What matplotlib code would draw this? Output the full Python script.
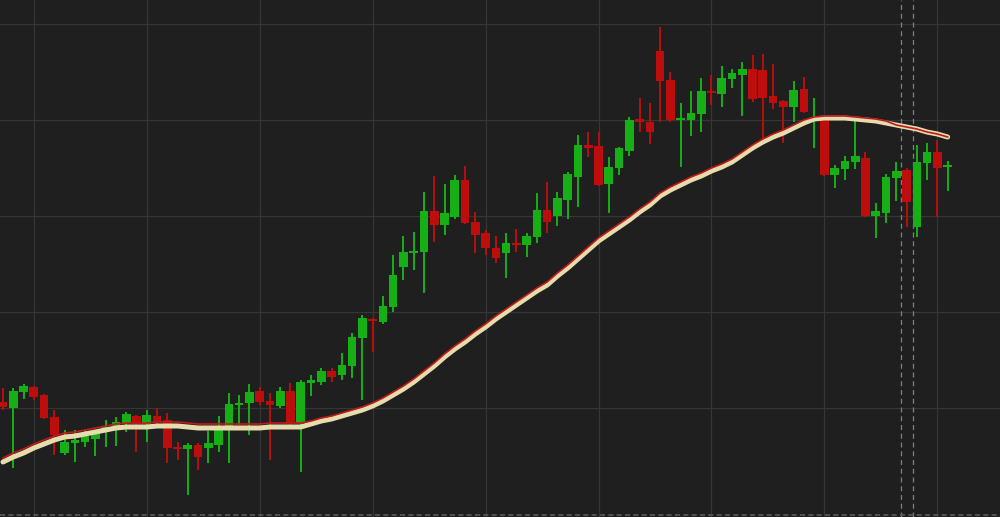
import matplotlib
matplotlib.use("Agg")
import matplotlib.pyplot as plt
import numpy as np

# OHLC (arbitrary price units)
opens = [20.6, 20.0, 21.6, 22.1, 21.3, 19.1, 15.5, 16.5, 16.6, 16.9,
         17.9, 18.2, 18.5, 19.2, 18.4, 19.2, 18.8, 16.1, 15.9, 16.3,
         16.0, 16.3, 18.1, 20.3, 20.5, 21.7, 20.7, 20.2, 21.7, 18.5,
         22.5, 22.6, 23.7, 23.3, 24.2, 27.0, 28.9, 28.6, 30.1, 34.1,
         35.5, 35.6, 39.7, 38.3, 39.1, 42.8, 38.6, 37.5, 36.0, 35.5,
         36.5, 36.3, 37.1, 39.8, 39.2, 40.8, 43.1, 46.3, 46.2, 42.4,
         44.0, 45.7, 48.9, 48.6, 55.7, 52.8, 48.8, 48.8, 49.4, 51.6,
         51.4, 52.9, 53.3, 53.9, 53.8, 51.2, 50.7, 50.1, 51.9, 48.8,
         48.8, 43.3, 43.9, 44.6, 45.0, 39.2, 39.5, 43.0, 43.8, 38.1,
         44.5, 45.6, 44.1]
highs = [22.0, 22.0, 22.4, 22.2, 21.4, 19.8, 17.8, 17.8, 17.8, 17.8,
         18.8, 19.1, 19.6, 19.3, 19.8, 20.0, 19.5, 16.6, 16.5, 16.5,
         17.7, 19.2, 21.5, 21.3, 22.4, 22.1, 21.5, 22.1, 22.5, 22.8,
         23.3, 24.0, 24.0, 25.5, 27.5, 29.3, 29.0, 31.2, 35.3, 37.2,
         37.6, 41.6, 43.2, 42.4, 43.3, 44.2, 39.6, 37.8, 37.2, 37.5,
         37.9, 37.5, 41.5, 42.6, 41.6, 43.6, 47.3, 47.6, 47.6, 45.1,
         46.1, 49.1, 51.0, 50.5, 58.1, 53.6, 50.5, 51.7, 53.0, 53.3,
         54.2, 53.9, 54.6, 55.3, 55.4, 54.4, 50.8, 52.7, 53.1, 51.0,
         49.0, 44.3, 45.2, 48.7, 45.6, 40.5, 43.4, 44.6, 44.0, 46.3,
         46.5, 46.8, 44.7]
lows = [19.8, 14.0, 20.9, 20.8, 18.9, 15.3, 15.3, 14.6, 16.1, 15.2,
        16.1, 16.2, 17.6, 15.6, 16.6, 18.4, 14.5, 14.8, 11.3, 13.8,
        14.5, 15.6, 14.5, 18.3, 17.3, 20.3, 14.8, 20.0, 18.3, 13.6,
        21.2, 22.3, 22.6, 22.8, 23.0, 20.8, 25.6, 28.4, 29.6, 32.8,
        33.8, 31.5, 36.6, 37.3, 38.9, 38.4, 35.5, 35.3, 34.5, 33.0,
        35.6, 35.1, 36.5, 37.5, 38.2, 38.9, 40.1, 45.1, 42.2, 39.5,
        43.3, 45.2, 47.6, 46.4, 48.6, 48.6, 44.1, 47.2, 47.6, 50.3,
        50.1, 52.0, 49.2, 50.6, 46.9, 49.9, 46.5, 48.6, 49.5, 46.0,
        43.2, 42.0, 42.8, 43.9, 39.1, 37.0, 38.5, 40.7, 38.1, 37.1,
        42.8, 39.1, 41.7]
closes = [20.1, 21.7, 22.2, 21.1, 19.0, 17.3, 16.6, 16.8, 17.2, 17.5,
          18.1, 18.6, 19.4, 18.4, 19.3, 18.6, 16.0, 15.9, 16.3, 15.1,
          16.5, 17.8, 20.4, 20.5, 21.6, 20.6, 20.3, 21.7, 18.5, 22.6,
          22.8, 23.7, 23.1, 24.3, 27.1, 29.0, 28.7, 30.2, 33.3, 35.6,
          35.7, 39.7, 38.3, 39.5, 42.8, 38.5, 37.3, 36.0, 35.0, 36.5,
          36.3, 37.2, 39.8, 38.6, 41.0, 43.4, 46.3, 46.0, 42.3, 44.1,
          46.0, 48.8, 48.6, 47.6, 52.7, 48.8, 49.0, 49.5, 51.7, 51.5,
          53.0, 53.5, 53.9, 50.9, 51.0, 50.5, 50.1, 51.8, 49.6, 49.1,
          43.3, 44.0, 44.7, 45.2, 39.2, 39.7, 43.1, 43.7, 40.6, 44.6,
          45.6, 44.0, 44.3]

# moving averages as drawn in the reference
ma_slow = [14.6, 15.1, 15.5, 16.0, 16.4, 16.8, 17.1, 17.2, 17.4, 17.6,
           17.8, 18.0, 18.1, 18.1, 18.1, 18.2, 18.2, 18.2, 18.1, 18.0,
           18.0, 18.0, 18.0, 18.0, 18.0, 18.0, 18.1, 18.1, 18.1, 18.1,
           18.4, 18.7, 18.9, 19.2, 19.5, 19.8, 20.2, 20.7, 21.3, 21.9,
           22.6, 23.4, 24.2, 25.1, 25.9, 26.6, 27.4, 28.1, 28.9, 29.6,
           30.3, 31.0, 31.7, 32.3, 33.2, 34.0, 34.9, 35.8, 36.7, 37.4,
           38.1, 38.8, 39.6, 40.3, 41.2, 41.8, 42.3, 42.8, 43.2, 43.7,
           44.1, 44.6, 45.3, 46.0, 46.6, 47.1, 47.5, 48.0, 48.5, 48.9,
           49.0, 49.0, 49.0, 48.9, 48.8, 48.7, 48.5, 48.3, 48.1, 47.9,
           47.6, 47.4, 47.1]
ma_fast = [15.0, 15.5, 15.9, 16.4, 16.8, 17.2, 17.5, 17.6, 17.8, 18.0,
           18.2, 18.4, 18.5, 18.5, 18.5, 18.6, 18.6, 18.6, 18.5, 18.4,
           18.4, 18.4, 18.4, 18.4, 18.4, 18.4, 18.5, 18.5, 18.5, 18.5,
           18.7, 19.0, 19.2, 19.5, 19.8, 20.1, 20.5, 21.0, 21.6, 22.2,
           22.9, 23.7, 24.5, 25.4, 26.2, 26.9, 27.7, 28.4, 29.2, 29.9,
           30.6, 31.3, 32.0, 32.6, 33.5, 34.3, 35.2, 36.1, 37.0, 37.7,
           38.4, 39.1, 39.9, 40.6, 41.5, 42.1, 42.6, 43.1, 43.5, 44.0,
           44.4, 44.9, 45.6, 46.3, 46.9, 47.4, 47.8, 48.3, 48.8, 49.1,
           49.2, 49.2, 49.2, 49.1, 49.0, 48.9, 48.7, 48.3, 48.1, 47.9,
           47.6, 47.4, 47.1]

price_grid = [20.0, 29.6, 39.2, 48.8, 58.4]
marker_idx = [87.5, 88.6]

up_col = "#16b016"
down_col = "#bd0d0d"
bg = "#1f1f1f"

fig = plt.figure(figsize=(10, 5.17), dpi=100)
fig.patch.set_facecolor(bg)
ax = fig.add_axes([0, 0, 1, 1])
ax.set_facecolor(bg)

x = np.arange(len(opens))
o = np.array(opens)
c = np.array(closes)
cols = [up_col if cc >= oo else down_col for oo, cc in zip(o, c)]

# grid
for g in price_grid:
    ax.axhline(g, color="#363636", lw=0.9, zorder=0)
for gx in range(3, len(x), 11):
    ax.axvline(gx, color="#363636", lw=0.9, zorder=0)
for mx in marker_idx:
    ax.axvline(mx, color="#808080", lw=0.9, ls=(0, (4, 3)), zorder=1)
ax.axhline(9.35, color="#5a5a5a", lw=1.2, ls=(0, (3, 2)), zorder=1)

# candles
ax.vlines(x, lows, highs, colors=cols, lw=1.4, zorder=2)
body = np.maximum(np.abs(c - o), 0.2)
ax.bar(x, body, bottom=np.minimum(o, c), width=0.84, color=cols,
       linewidth=0, zorder=3)

# moving averages
ax.plot(x, ma_slow, color="#e6dcae", lw=3.6, zorder=4,
        solid_capstyle="round")
ax.plot(x, ma_fast, color="#c01a1a", lw=1.2, zorder=5)

ax.set_xlim(-0.29, 97.1)
ax.set_ylim(9.1, 60.8)
ax.axis("off")

fig.savefig("out.png", dpi=100, facecolor=bg)
